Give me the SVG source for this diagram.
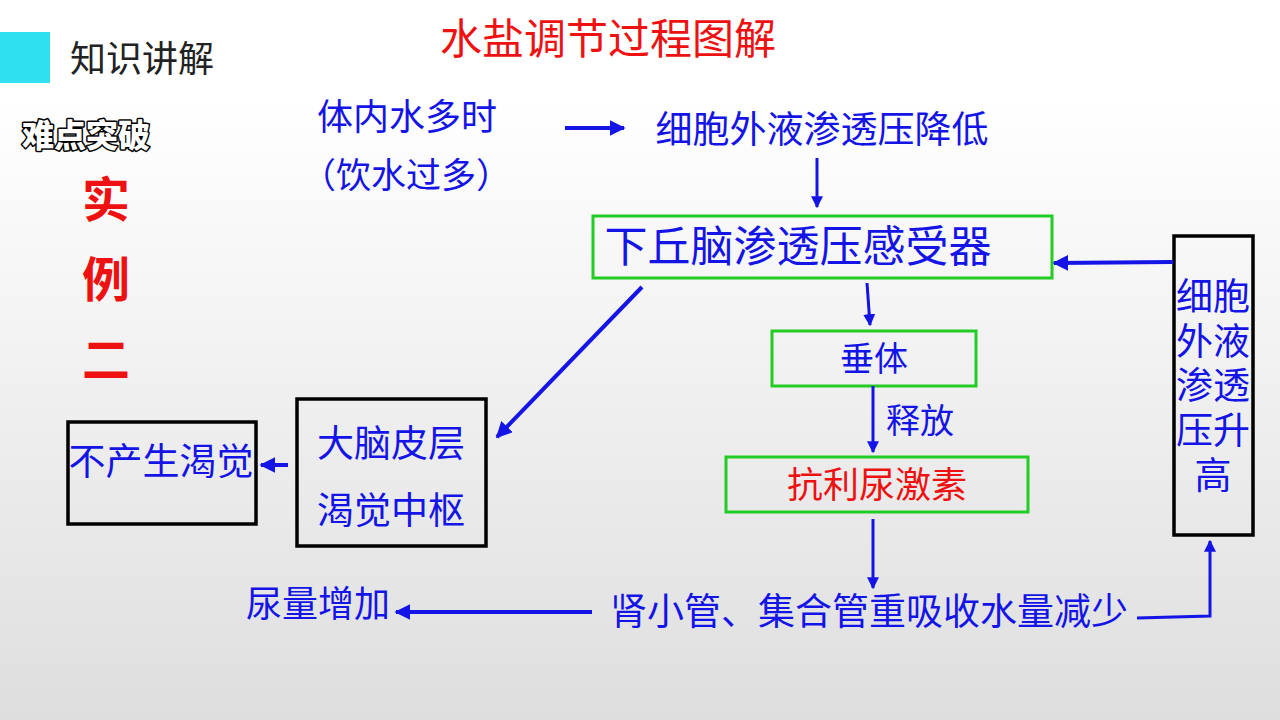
<svg xmlns="http://www.w3.org/2000/svg" width="1280" height="720" viewBox="0 0 1280 720">
<defs>
<linearGradient id="bg" x1="0" y1="0" x2="0" y2="1">
<stop offset="0" stop-color="#ffffff"/>
<stop offset="0.14" stop-color="#ffffff"/>
<stop offset="1" stop-color="#dedede"/>
</linearGradient>
<marker id="ah" viewBox="0 0 10 10" refX="9" refY="5" markerWidth="4" markerHeight="4" orient="auto" markerUnits="strokeWidth">
<path d="M0,0 L10,5 L0,10 Z" fill="#1414e6"/>
</marker>
<style>
.t{font-family:"Noto Sans CJK SC","Noto Sans CJK JP",sans-serif;}
.b{fill:#1414e6;}
.r{fill:#ee1111;}
.gb{fill:none;stroke:#22cc22;stroke-width:3;}
.kb{fill:none;stroke:#000;stroke-width:3.5;}
.c{fill:none;stroke:#1414e6;stroke-width:4;}
.c3{fill:none;stroke:#1414e6;stroke-width:3;}
</style>
</defs>
<rect width="1280" height="720" fill="url(#bg)"/>

<g id="header">
<rect x="0" y="32" width="50" height="51" fill="#2ee0f0"/>
<text class="t" x="70" y="72" font-size="36" fill="#222">知识讲解</text>
<text class="t r" x="608" y="54" font-size="42" text-anchor="middle">水盐调节过程图解</text>
<text class="t" x="86" y="147" font-size="32" font-weight="900" fill="#fff" stroke="#000" stroke-width="3" paint-order="stroke" stroke-linejoin="round" text-anchor="middle">难点突破</text>
<text class="t r" x="106" y="217" font-size="48" font-weight="bold" text-anchor="middle">实</text>
<text class="t r" x="106" y="297" font-size="48" font-weight="bold" text-anchor="middle">例</text>
<text class="t r" x="106" y="377" font-size="48" font-weight="bold" text-anchor="middle">二</text>
</g>

<g id="n-water">
<text class="t b" x="407" y="130" font-size="36" text-anchor="middle">体内水多时</text>
<text class="t b" x="406" y="188" font-size="35" text-anchor="middle">（饮水过多）</text>
</g>

<g id="n-ecf-low">
<text class="t b" x="822" y="143" font-size="37" text-anchor="middle">细胞外液渗透压降低</text>
</g>

<g id="n-hypo">
<rect class="gb" x="593" y="216" width="459" height="62"/>
<text class="t b" x="798" y="262" font-size="43" text-anchor="middle">下丘脑渗透压感受器</text>
</g>

<g id="n-ecf-high">
<rect class="kb" x="1174" y="236" width="79" height="299"/>
<text class="t b" font-size="37" text-anchor="middle"><tspan x="1213" y="310">细胞</tspan><tspan x="1213" y="355">外液</tspan><tspan x="1213" y="399">渗透</tspan><tspan x="1213" y="444">压升</tspan><tspan x="1213" y="489">高</tspan></text>
</g>

<g id="n-pituitary">
<rect class="gb" x="772" y="331" width="204" height="55"/>
<text class="t b" x="874" y="371" font-size="34" text-anchor="middle">垂体</text>
</g>

<g id="n-adh">
<rect class="gb" x="726" y="457" width="302" height="55"/>
<text class="t r" x="877" y="498" font-size="36" text-anchor="middle">抗利尿激素</text>
</g>

<g id="n-kidney">
<text class="t b" x="869" y="625" font-size="37" text-anchor="middle">肾小管、集合管重吸收水量减少</text>
</g>

<g id="n-urine">
<text class="t b" x="318" y="617" font-size="36" text-anchor="middle">尿量增加</text>
</g>

<g id="n-cortex">
<rect class="kb" x="297" y="399" width="189" height="147"/>
<text class="t b" x="391" y="457" font-size="37" text-anchor="middle">大脑皮层</text>
<text class="t b" x="391" y="524" font-size="37" text-anchor="middle">渴觉中枢</text>
</g>

<g id="n-nothirst">
<rect class="kb" x="68" y="422" width="188" height="102"/>
<text class="t b" x="161" y="475" font-size="37" text-anchor="middle">不产生渴觉</text>
</g>

<g id="connectors">
<line class="c" x1="565" y1="128" x2="624" y2="128" marker-end="url(#ah)"/>
<line class="c3" x1="817" y1="158" x2="817" y2="207" marker-end="url(#ah)"/>
<line class="c" x1="1173" y1="262" x2="1054" y2="263" marker-end="url(#ah)"/>
<line class="c3" x1="867" y1="283" x2="870" y2="325" marker-end="url(#ah)"/>
<line class="c3" x1="873" y1="386" x2="873" y2="452" marker-end="url(#ah)"/>
<text class="t b" x="920" y="433" font-size="34" text-anchor="middle">释放</text>
<line class="c3" x1="873" y1="519" x2="873" y2="588" marker-end="url(#ah)"/>
<line class="c" x1="592" y1="612" x2="396" y2="612" marker-end="url(#ah)"/>
<polyline class="c3" points="1137,618 1210,616 1210,541" marker-end="url(#ah)"/>
<line class="c" x1="642" y1="287" x2="497" y2="437" marker-end="url(#ah)"/>
<line class="c" x1="288" y1="465" x2="261" y2="465" marker-end="url(#ah)"/>
</g>
</svg>
